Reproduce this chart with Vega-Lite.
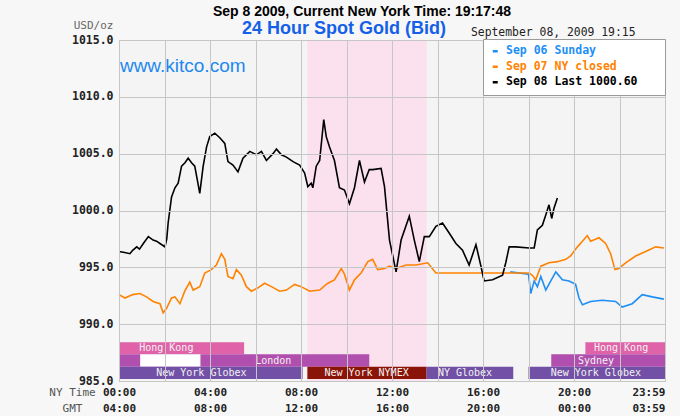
{
  "$schema": "https://vega.github.io/schema/vega-lite/v6.json",
  "width": 546,
  "height": 341,
  "autosize": "none",
  "padding": {"left": 119, "top": 40, "right": 15, "bottom": 35},
  "background": "#f7f7f7",
  "config": {
    "view": {"stroke": "#a8a8a8", "fill": "#f4f4f4"}
  },
  "title": {
    "text": "Sep 8 2009, Current New York Time: 19:17:48",
    "font": "Liberation Sans",
    "fontSize": 14,
    "fontWeight": "bold",
    "color": "#000000",
    "anchor": "middle",
    "frame": "group",
    "dx": -30,
    "offset": 0
  },
  "datasets": {
    "sessions": [
      {"lane": "top", "kind": "Hong Kong", "label": "Hong Kong", "start": 0, "end": 5.5, "label_at": 2.08},
      {"lane": "top", "kind": "Hong Kong", "label": "Hong Kong", "start": 20.5, "end": 24, "label_at": 22.07},
      {"lane": "mid", "kind": "London", "label": "London", "start": 0, "end": 11, "label_at": 6.78},
      {"lane": "mid", "kind": "blank", "label": "", "start": 0.93, "end": 3.58, "label_at": 2.25},
      {"lane": "mid", "kind": "Sydney", "label": "Sydney", "start": 19, "end": 24, "label_at": 20.97},
      {"lane": "bot", "kind": "Globex", "label": "New York Globex", "start": 0, "end": 8.07, "label_at": 3.62},
      {"lane": "bot", "kind": "NYMEX", "label": "New York NYMEX", "start": 8.28, "end": 13.52, "label_at": 10.88},
      {"lane": "bot", "kind": "Globex", "label": "NY Globex", "start": 13.52, "end": 17.33, "label_at": 15.21},
      {"lane": "bot", "kind": "Globex", "label": "New York Globex", "start": 18, "end": 24, "label_at": 20.96}
    ],
    "prices": [
      {"s": "Sep 06 Sunday", "h": 17.2, "v": 994.6},
      {"s": "Sep 06 Sunday", "h": 18.0, "v": 994.4},
      {"s": "Sep 06 Sunday", "h": 18.1, "v": 992.7},
      {"s": "Sep 06 Sunday", "h": 18.25, "v": 993.8},
      {"s": "Sep 06 Sunday", "h": 18.39, "v": 993.3},
      {"s": "Sep 06 Sunday", "h": 18.54, "v": 994.2},
      {"s": "Sep 06 Sunday", "h": 18.76, "v": 993.0},
      {"s": "Sep 06 Sunday", "h": 18.98, "v": 993.8},
      {"s": "Sep 06 Sunday", "h": 19.2, "v": 994.6},
      {"s": "Sep 06 Sunday", "h": 19.49, "v": 993.9},
      {"s": "Sep 06 Sunday", "h": 19.78, "v": 993.8},
      {"s": "Sep 06 Sunday", "h": 20.07, "v": 993.5},
      {"s": "Sep 06 Sunday", "h": 20.22, "v": 992.3},
      {"s": "Sep 06 Sunday", "h": 20.37, "v": 991.7},
      {"s": "Sep 06 Sunday", "h": 20.73, "v": 992.0},
      {"s": "Sep 06 Sunday", "h": 21.24, "v": 992.1},
      {"s": "Sep 06 Sunday", "h": 21.83, "v": 992.0},
      {"s": "Sep 06 Sunday", "h": 22.12, "v": 991.5},
      {"s": "Sep 06 Sunday", "h": 22.56, "v": 991.8},
      {"s": "Sep 06 Sunday", "h": 23.0, "v": 992.6},
      {"s": "Sep 06 Sunday", "h": 23.44, "v": 992.4},
      {"s": "Sep 06 Sunday", "h": 23.95, "v": 992.2},

      {"s": "Sep 07 NY closed", "h": 0, "v": 992.6},
      {"s": "Sep 07 NY closed", "h": 0.26, "v": 992.3},
      {"s": "Sep 07 NY closed", "h": 0.6, "v": 992.6},
      {"s": "Sep 07 NY closed", "h": 0.92, "v": 992.7},
      {"s": "Sep 07 NY closed", "h": 1.21, "v": 992.4},
      {"s": "Sep 07 NY closed", "h": 1.5, "v": 992.0},
      {"s": "Sep 07 NY closed", "h": 1.8, "v": 991.8},
      {"s": "Sep 07 NY closed", "h": 1.94, "v": 991.0},
      {"s": "Sep 07 NY closed", "h": 2.09, "v": 991.4},
      {"s": "Sep 07 NY closed", "h": 2.31, "v": 992.3},
      {"s": "Sep 07 NY closed", "h": 2.46, "v": 992.4},
      {"s": "Sep 07 NY closed", "h": 2.68, "v": 991.8},
      {"s": "Sep 07 NY closed", "h": 2.89, "v": 992.9},
      {"s": "Sep 07 NY closed", "h": 3.11, "v": 993.7},
      {"s": "Sep 07 NY closed", "h": 3.26, "v": 993.0},
      {"s": "Sep 07 NY closed", "h": 3.55, "v": 993.3},
      {"s": "Sep 07 NY closed", "h": 3.77, "v": 994.5},
      {"s": "Sep 07 NY closed", "h": 4.06, "v": 994.8},
      {"s": "Sep 07 NY closed", "h": 4.28, "v": 995.2},
      {"s": "Sep 07 NY closed", "h": 4.5, "v": 996.2},
      {"s": "Sep 07 NY closed", "h": 4.65, "v": 995.7},
      {"s": "Sep 07 NY closed", "h": 4.79, "v": 994.2},
      {"s": "Sep 07 NY closed", "h": 5.01, "v": 994.0},
      {"s": "Sep 07 NY closed", "h": 5.16, "v": 994.8},
      {"s": "Sep 07 NY closed", "h": 5.38, "v": 994.3},
      {"s": "Sep 07 NY closed", "h": 5.6, "v": 993.3},
      {"s": "Sep 07 NY closed", "h": 5.82, "v": 992.9},
      {"s": "Sep 07 NY closed", "h": 6.11, "v": 993.2},
      {"s": "Sep 07 NY closed", "h": 6.4, "v": 993.6},
      {"s": "Sep 07 NY closed", "h": 6.7, "v": 993.3},
      {"s": "Sep 07 NY closed", "h": 7.06, "v": 992.9},
      {"s": "Sep 07 NY closed", "h": 7.36, "v": 993.0},
      {"s": "Sep 07 NY closed", "h": 7.72, "v": 993.5},
      {"s": "Sep 07 NY closed", "h": 8.01, "v": 993.3},
      {"s": "Sep 07 NY closed", "h": 8.38, "v": 992.9},
      {"s": "Sep 07 NY closed", "h": 8.82, "v": 993.0},
      {"s": "Sep 07 NY closed", "h": 9.18, "v": 993.6},
      {"s": "Sep 07 NY closed", "h": 9.47, "v": 993.9},
      {"s": "Sep 07 NY closed", "h": 9.77, "v": 994.9},
      {"s": "Sep 07 NY closed", "h": 9.91, "v": 994.4},
      {"s": "Sep 07 NY closed", "h": 10.13, "v": 993.0},
      {"s": "Sep 07 NY closed", "h": 10.35, "v": 993.9},
      {"s": "Sep 07 NY closed", "h": 10.64, "v": 994.5},
      {"s": "Sep 07 NY closed", "h": 10.94, "v": 995.5},
      {"s": "Sep 07 NY closed", "h": 11.15, "v": 995.7},
      {"s": "Sep 07 NY closed", "h": 11.37, "v": 994.8},
      {"s": "Sep 07 NY closed", "h": 11.67, "v": 994.9},
      {"s": "Sep 07 NY closed", "h": 11.89, "v": 995.1},
      {"s": "Sep 07 NY closed", "h": 12.18, "v": 994.9},
      {"s": "Sep 07 NY closed", "h": 12.62, "v": 995.2},
      {"s": "Sep 07 NY closed", "h": 13.06, "v": 995.2},
      {"s": "Sep 07 NY closed", "h": 13.57, "v": 995.4},
      {"s": "Sep 07 NY closed", "h": 13.93, "v": 994.5},
      {"s": "Sep 07 NY closed", "h": 18.03, "v": 994.5},
      {"s": "Sep 07 NY closed", "h": 18.17, "v": 994.3},
      {"s": "Sep 07 NY closed", "h": 18.32, "v": 993.9},
      {"s": "Sep 07 NY closed", "h": 18.54, "v": 995.1},
      {"s": "Sep 07 NY closed", "h": 18.9, "v": 995.4},
      {"s": "Sep 07 NY closed", "h": 19.27, "v": 995.5},
      {"s": "Sep 07 NY closed", "h": 19.64, "v": 995.7},
      {"s": "Sep 07 NY closed", "h": 19.85, "v": 996.0},
      {"s": "Sep 07 NY closed", "h": 20.15, "v": 996.8},
      {"s": "Sep 07 NY closed", "h": 20.37, "v": 997.3},
      {"s": "Sep 07 NY closed", "h": 20.58, "v": 997.8},
      {"s": "Sep 07 NY closed", "h": 20.73, "v": 997.3},
      {"s": "Sep 07 NY closed", "h": 21.1, "v": 997.6},
      {"s": "Sep 07 NY closed", "h": 21.39, "v": 997.1},
      {"s": "Sep 07 NY closed", "h": 21.61, "v": 996.2},
      {"s": "Sep 07 NY closed", "h": 21.8, "v": 994.8},
      {"s": "Sep 07 NY closed", "h": 21.97, "v": 994.9},
      {"s": "Sep 07 NY closed", "h": 22.27, "v": 995.4},
      {"s": "Sep 07 NY closed", "h": 22.71, "v": 996.0},
      {"s": "Sep 07 NY closed", "h": 23.15, "v": 996.4},
      {"s": "Sep 07 NY closed", "h": 23.59, "v": 996.8},
      {"s": "Sep 07 NY closed", "h": 23.95, "v": 996.7},

      {"s": "Sep 08 Last 1000.60", "h": 0, "v": 996.4},
      {"s": "Sep 08 Last 1000.60", "h": 0.25, "v": 996.3},
      {"s": "Sep 08 Last 1000.60", "h": 0.48, "v": 996.2},
      {"s": "Sep 08 Last 1000.60", "h": 0.6, "v": 996.5},
      {"s": "Sep 08 Last 1000.60", "h": 0.78, "v": 996.8},
      {"s": "Sep 08 Last 1000.60", "h": 0.9, "v": 996.6},
      {"s": "Sep 08 Last 1000.60", "h": 1.07, "v": 997.1},
      {"s": "Sep 08 Last 1000.60", "h": 1.29, "v": 997.7},
      {"s": "Sep 08 Last 1000.60", "h": 1.5, "v": 997.4},
      {"s": "Sep 08 Last 1000.60", "h": 1.65, "v": 997.3},
      {"s": "Sep 08 Last 1000.60", "h": 1.8, "v": 997.1},
      {"s": "Sep 08 Last 1000.60", "h": 1.95, "v": 996.9},
      {"s": "Sep 08 Last 1000.60", "h": 2.02, "v": 996.8},
      {"s": "Sep 08 Last 1000.60", "h": 2.1, "v": 997.5},
      {"s": "Sep 08 Last 1000.60", "h": 2.16, "v": 998.9},
      {"s": "Sep 08 Last 1000.60", "h": 2.31, "v": 1001.2},
      {"s": "Sep 08 Last 1000.60", "h": 2.46, "v": 1002.0},
      {"s": "Sep 08 Last 1000.60", "h": 2.6, "v": 1002.4},
      {"s": "Sep 08 Last 1000.60", "h": 2.75, "v": 1003.9},
      {"s": "Sep 08 Last 1000.60", "h": 2.9, "v": 1004.2},
      {"s": "Sep 08 Last 1000.60", "h": 3.04, "v": 1004.6},
      {"s": "Sep 08 Last 1000.60", "h": 3.19, "v": 1004.2},
      {"s": "Sep 08 Last 1000.60", "h": 3.33, "v": 1003.9},
      {"s": "Sep 08 Last 1000.60", "h": 3.45, "v": 1002.6},
      {"s": "Sep 08 Last 1000.60", "h": 3.55, "v": 1001.5},
      {"s": "Sep 08 Last 1000.60", "h": 3.7, "v": 1003.9},
      {"s": "Sep 08 Last 1000.60", "h": 3.85, "v": 1005.6},
      {"s": "Sep 08 Last 1000.60", "h": 3.99, "v": 1006.5},
      {"s": "Sep 08 Last 1000.60", "h": 4.21, "v": 1006.8},
      {"s": "Sep 08 Last 1000.60", "h": 4.43, "v": 1006.4},
      {"s": "Sep 08 Last 1000.60", "h": 4.65, "v": 1005.9},
      {"s": "Sep 08 Last 1000.60", "h": 4.79, "v": 1004.3},
      {"s": "Sep 08 Last 1000.60", "h": 5.01, "v": 1004.0},
      {"s": "Sep 08 Last 1000.60", "h": 5.23, "v": 1003.4},
      {"s": "Sep 08 Last 1000.60", "h": 5.45, "v": 1004.6},
      {"s": "Sep 08 Last 1000.60", "h": 5.75, "v": 1005.2},
      {"s": "Sep 08 Last 1000.60", "h": 6.04, "v": 1004.9},
      {"s": "Sep 08 Last 1000.60", "h": 6.26, "v": 1005.2},
      {"s": "Sep 08 Last 1000.60", "h": 6.48, "v": 1004.4},
      {"s": "Sep 08 Last 1000.60", "h": 6.77, "v": 1005.0},
      {"s": "Sep 08 Last 1000.60", "h": 6.92, "v": 1005.4},
      {"s": "Sep 08 Last 1000.60", "h": 7.14, "v": 1004.9},
      {"s": "Sep 08 Last 1000.60", "h": 7.36, "v": 1004.7},
      {"s": "Sep 08 Last 1000.60", "h": 7.65, "v": 1004.3},
      {"s": "Sep 08 Last 1000.60", "h": 7.94, "v": 1004.0},
      {"s": "Sep 08 Last 1000.60", "h": 8.16, "v": 1003.3},
      {"s": "Sep 08 Last 1000.60", "h": 8.3, "v": 1002.1},
      {"s": "Sep 08 Last 1000.60", "h": 8.45, "v": 1002.4},
      {"s": "Sep 08 Last 1000.60", "h": 8.52, "v": 1002.0},
      {"s": "Sep 08 Last 1000.60", "h": 8.67, "v": 1003.9},
      {"s": "Sep 08 Last 1000.60", "h": 8.82, "v": 1004.4},
      {"s": "Sep 08 Last 1000.60", "h": 9.0, "v": 1008.0},
      {"s": "Sep 08 Last 1000.60", "h": 9.11, "v": 1006.5},
      {"s": "Sep 08 Last 1000.60", "h": 9.25, "v": 1005.6},
      {"s": "Sep 08 Last 1000.60", "h": 9.47, "v": 1004.4},
      {"s": "Sep 08 Last 1000.60", "h": 9.69, "v": 1002.0},
      {"s": "Sep 08 Last 1000.60", "h": 9.91, "v": 1001.8},
      {"s": "Sep 08 Last 1000.60", "h": 10.13, "v": 1000.6},
      {"s": "Sep 08 Last 1000.60", "h": 10.35, "v": 1002.0},
      {"s": "Sep 08 Last 1000.60", "h": 10.57, "v": 1004.4},
      {"s": "Sep 08 Last 1000.60", "h": 10.79, "v": 1002.5},
      {"s": "Sep 08 Last 1000.60", "h": 11.0, "v": 1003.6},
      {"s": "Sep 08 Last 1000.60", "h": 11.15, "v": 1003.6},
      {"s": "Sep 08 Last 1000.60", "h": 11.52, "v": 1003.7},
      {"s": "Sep 08 Last 1000.60", "h": 11.67, "v": 1002.1},
      {"s": "Sep 08 Last 1000.60", "h": 11.89, "v": 997.4},
      {"s": "Sep 08 Last 1000.60", "h": 12.18, "v": 994.6},
      {"s": "Sep 08 Last 1000.60", "h": 12.4, "v": 997.4},
      {"s": "Sep 08 Last 1000.60", "h": 12.76, "v": 999.5},
      {"s": "Sep 08 Last 1000.60", "h": 12.98, "v": 997.4},
      {"s": "Sep 08 Last 1000.60", "h": 13.2, "v": 995.5},
      {"s": "Sep 08 Last 1000.60", "h": 13.42, "v": 997.7},
      {"s": "Sep 08 Last 1000.60", "h": 13.64, "v": 997.7},
      {"s": "Sep 08 Last 1000.60", "h": 13.93, "v": 998.6},
      {"s": "Sep 08 Last 1000.60", "h": 14.22, "v": 998.9},
      {"s": "Sep 08 Last 1000.60", "h": 14.52, "v": 998.0},
      {"s": "Sep 08 Last 1000.60", "h": 14.81, "v": 997.1},
      {"s": "Sep 08 Last 1000.60", "h": 15.1, "v": 996.5},
      {"s": "Sep 08 Last 1000.60", "h": 15.39, "v": 995.2},
      {"s": "Sep 08 Last 1000.60", "h": 15.69, "v": 997.0},
      {"s": "Sep 08 Last 1000.60", "h": 15.91, "v": 995.1},
      {"s": "Sep 08 Last 1000.60", "h": 16.05, "v": 993.8},
      {"s": "Sep 08 Last 1000.60", "h": 16.42, "v": 993.9},
      {"s": "Sep 08 Last 1000.60", "h": 16.86, "v": 994.3},
      {"s": "Sep 08 Last 1000.60", "h": 17.0, "v": 995.4},
      {"s": "Sep 08 Last 1000.60", "h": 17.15, "v": 996.8},
      {"s": "Sep 08 Last 1000.60", "h": 17.44, "v": 996.8},
      {"s": "Sep 08 Last 1000.60", "h": 18.03, "v": 996.7},
      {"s": "Sep 08 Last 1000.60", "h": 18.25, "v": 996.7},
      {"s": "Sep 08 Last 1000.60", "h": 18.39, "v": 998.3},
      {"s": "Sep 08 Last 1000.60", "h": 18.61, "v": 998.7},
      {"s": "Sep 08 Last 1000.60", "h": 18.76, "v": 999.6},
      {"s": "Sep 08 Last 1000.60", "h": 18.9, "v": 1000.5},
      {"s": "Sep 08 Last 1000.60", "h": 19.02, "v": 999.3},
      {"s": "Sep 08 Last 1000.60", "h": 19.12, "v": 1000.2},
      {"s": "Sep 08 Last 1000.60", "h": 19.27, "v": 1001.1}
    ]
  },
  "layer": [
    {
      "data": {"values": [{"market": "NYMEX trading floor", "start": 8.28, "end": 13.52}]},
      "mark": {"type": "rect", "fill": "#fbe0ee"},
      "encoding": {
        "x": {
          "field": "start", "type": "quantitative",
          "scale": {"domain": [0, 24], "nice": false, "zero": false},
          "axis": {
            "values": [0, 2, 4, 6, 8, 10, 12, 14, 16, 18, 20, 22, 24],
            "labelExpr": "datum.value % 4 != 0 ? '' : [datum.value == 24 ? '23:59' : (datum.value < 10 ? '0' : '') + datum.value + ':00', datum.value == 24 ? '03:59' : (datum.value >= 20 ? '0' + (datum.value - 20) + ':00' : (datum.value + 4 < 10 ? '0' : '') + (datum.value + 4) + ':00')]",
            "labelOverlap": false,
            "labelBound": false,
            "labelAlign": {"condition": {"test": "datum.value == 24", "value": "right"}, "value": "center"},
            "labelFont": "DejaVu Sans Mono",
            "labelFontSize": 11,
            "labelFontWeight": "bold",
            "labelColor": "#222222",
            "labelPadding": 5,
            "labelLineHeight": 16,
            "ticks": false,
            "tickSize": 0,
            "domain": false,
            "grid": true,
            "gridColor": "#c6c6c6",
            "gridOpacity": 1,
            "gridWidth": 1,
            "zindex": 1,
            "title": ["NY Time", "GMT"],
            "titleX": -47,
            "titleY": 5,
            "titleAngle": 0,
            "titleAlign": "center",
            "titleBaseline": "top",
            "titleLineHeight": 16,
            "titleFont": "DejaVu Sans Mono",
            "titleFontSize": 11,
            "titleFontWeight": "normal",
            "titleColor": "#555555"
          }
        },
        "x2": {"field": "end"},
        "y": {
          "datum": 985, "type": "quantitative",
          "scale": {"domain": [985, 1015], "nice": false, "zero": false},
          "axis": {
            "values": [985, 990, 995, 1000, 1005, 1010, 1015],
            "format": ".1f",
            "labelFont": "DejaVu Sans Mono",
            "labelFontSize": 11.5,
            "labelFontWeight": "bold",
            "labelColor": "#222222",
            "labelPadding": 6,
            "ticks": false,
            "tickSize": 0,
            "domain": false,
            "grid": true,
            "gridColor": "#c6c6c6",
            "gridOpacity": 1,
            "gridWidth": 1,
            "zindex": 1,
            "title": "USD/oz",
            "titleX": -6,
            "titleY": -15,
            "titleAngle": 0,
            "titleAlign": "right",
            "titleBaseline": "middle",
            "titleFont": "DejaVu Sans Mono",
            "titleFontSize": 11,
            "titleFontWeight": "normal",
            "titleColor": "#666666"
          }
        },
        "y2": {"datum": 1015}
      }
    },
    {
      "data": {"name": "sessions"},
      "transform": [{"filter": "datum.lane == 'top'"}],
      "mark": {"type": "rect"},
      "encoding": {
        "x": {"field": "start", "type": "quantitative"},
        "x2": {"field": "end"},
        "y": {"datum": 988.41, "type": "quantitative"},
        "y2": {"datum": 987.35},
        "fill": {"field": "kind", "type": "nominal", "legend": null,
          "scale": {"domain": ["Hong Kong", "London", "Sydney", "Globex", "NYMEX", "blank"],
                    "range": ["#e062a8", "#b04fae", "#b04fae", "#7150a6", "#8a1408", "#ffffff"]}}
      }
    },
    {
      "data": {"name": "sessions"},
      "transform": [{"filter": "datum.lane == 'mid'"}],
      "mark": {"type": "rect"},
      "encoding": {
        "x": {"field": "start", "type": "quantitative"},
        "x2": {"field": "end"},
        "y": {"datum": 987.35, "type": "quantitative"},
        "y2": {"datum": 986.26},
        "fill": {"field": "kind", "type": "nominal", "legend": null}
      }
    },
    {
      "data": {"name": "sessions"},
      "transform": [{"filter": "datum.lane == 'bot'"}],
      "mark": {"type": "rect"},
      "encoding": {
        "x": {"field": "start", "type": "quantitative"},
        "x2": {"field": "end"},
        "y": {"datum": 986.26, "type": "quantitative"},
        "y2": {"datum": 985.18},
        "fill": {"field": "kind", "type": "nominal", "legend": null}
      }
    },
    {
      "data": {"name": "sessions"},
      "transform": [{"filter": "datum.lane == 'top' && datum.label != ''"}],
      "mark": {"type": "text", "font": "DejaVu Sans Mono", "fontSize": 10, "fill": "#f2f2f2", "baseline": "middle", "align": "center"},
      "encoding": {
        "x": {"field": "label_at", "type": "quantitative"},
        "y": {"datum": 987.88, "type": "quantitative"},
        "text": {"field": "label"}
      }
    },
    {
      "data": {"name": "sessions"},
      "transform": [{"filter": "datum.lane == 'mid' && datum.label != ''"}],
      "mark": {"type": "text", "font": "DejaVu Sans Mono", "fontSize": 10, "fill": "#f2f2f2", "baseline": "middle", "align": "center"},
      "encoding": {
        "x": {"field": "label_at", "type": "quantitative"},
        "y": {"datum": 986.8, "type": "quantitative"},
        "text": {"field": "label"}
      }
    },
    {
      "data": {"name": "sessions"},
      "transform": [{"filter": "datum.lane == 'bot' && datum.label != ''"}],
      "mark": {"type": "text", "font": "DejaVu Sans Mono", "fontSize": 10, "fill": "#f2f2f2", "baseline": "middle", "align": "center"},
      "encoding": {
        "x": {"field": "label_at", "type": "quantitative"},
        "y": {"datum": 985.72, "type": "quantitative"},
        "text": {"field": "label"}
      }
    },
    {
      "data": {"name": "prices"},
      "mark": {"type": "line", "strokeWidth": 1.6, "interpolate": "linear"},
      "encoding": {
        "x": {"field": "h", "type": "quantitative"},
        "y": {"field": "v", "type": "quantitative"},
        "stroke": {
          "field": "s", "type": "nominal",
          "scale": {"domain": ["Sep 06 Sunday", "Sep 07 NY closed", "Sep 08 Last 1000.60"],
                    "range": ["#1e8ff5", "#ff8200", "#000000"]},
          "legend": {
            "title": null,
            "orient": "none",
            "legendX": 364,
            "legendY": -1,
            "direction": "vertical",
            "fillColor": "#ffffff",
            "strokeColor": "#9a9a9a",
            "padding": 6.5,
            "rowPadding": 2.5,
            "symbolType": "M-1,-0.5H1V0.5H-1Z",
            "symbolSize": 25,
            "symbolStrokeWidth": 0,
            "labelOffset": 5,
            "labelFont": "DejaVu Sans Mono",
            "labelFontSize": 11.5,
            "labelFontWeight": "bold",
            "labelLimit": 300,
            "labelColor": {"expr": "scale('stroke', datum.value)"},
            "labelExpr": "datum.label + '\u00a0\u00a0\u00a0\u200b'",
            "zindex": 2,
            "encode": {
              "symbols": {"update": {"fill": {"scale": "stroke", "field": "value"}, "stroke": {"value": "transparent"}}}
            }
          }
        }
      }
    },
    {
      "data": {"values": [{}]},
      "mark": {"type": "text", "text": "24 Hour Spot Gold (Bid)", "font": "Liberation Sans", "fontSize": 18, "fontWeight": "bold", "fill": "#1560e8", "align": "center", "baseline": "middle"},
      "encoding": {
        "x": {"datum": 9.89, "type": "quantitative"},
        "y": {"datum": 1015.97, "type": "quantitative"}
      }
    },
    {
      "data": {"values": [{}]},
      "mark": {"type": "text", "text": "September 08, 2009 19:15", "font": "DejaVu Sans Mono", "fontSize": 11.4, "fill": "#222222", "align": "left", "baseline": "middle"},
      "encoding": {
        "x": {"datum": 15.47, "type": "quantitative"},
        "y": {"datum": 1015.62, "type": "quantitative"}
      }
    },
    {
      "data": {"values": [{}]},
      "mark": {"type": "text", "text": "www.kitco.com", "font": "Liberation Sans", "fontSize": 19, "fill": "#1e88f0", "align": "left", "baseline": "middle"},
      "encoding": {
        "x": {"datum": 0.04, "type": "quantitative"},
        "y": {"datum": 1012.71, "type": "quantitative"}
      }
    }
  ]
}
